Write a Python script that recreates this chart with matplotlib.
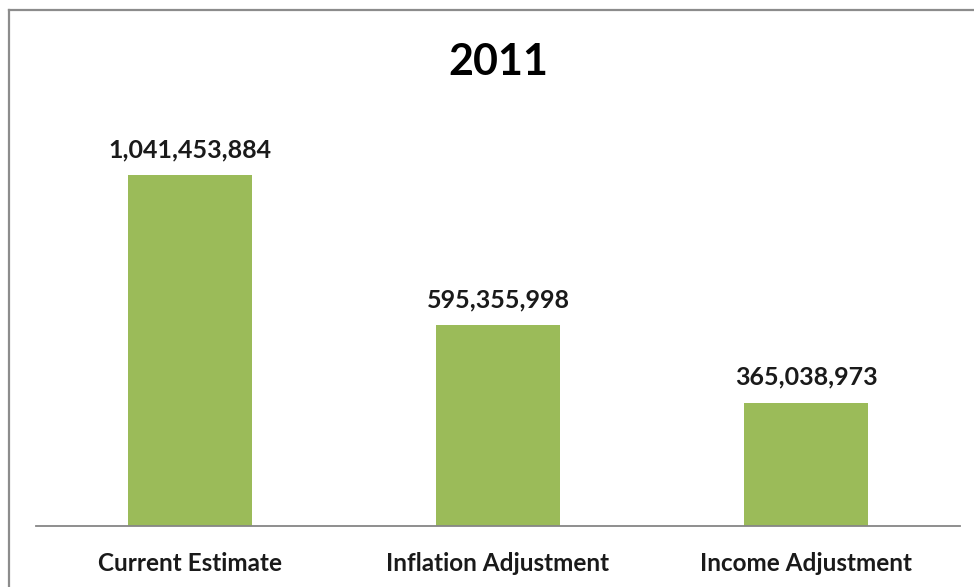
import matplotlib.pyplot as plt
from matplotlib.lines import Line2D

# Estimates for 2011
categories = ["Current Estimate", "Inflation Adjustment", "Income Adjustment"]
values = [1041453884, 595355998, 365038973]
title = "2011"

plt.rcParams['font.family'] = ['Lato', 'DejaVu Sans']

fig = plt.figure(figsize=(9.74, 5.87), dpi=100)
ax = fig.add_axes([36 / 974, 61 / 587, 924 / 974, 396 / 587])

x = range(len(categories))
bars = ax.bar(x, values, width=0.4, color='#9BBB59')

ax.set_xlim(-0.5, len(categories) - 0.5)
ax.set_ylim(0, values[0] * 396 / 351)

# value labels above each bar
for rect, v in zip(bars, values):
    ax.annotate(f"{v:,}", (rect.get_x() + rect.get_width() / 2, v),
                xytext=(0, 13), textcoords='offset points',
                ha='center', va='baseline', fontsize=18, fontweight='bold',
                color='#1a1a1a')

ax.set_xticks(list(x))
ax.set_xticklabels(categories, fontsize=17.5, fontweight='bold', color='#1a1a1a')
ax.tick_params(axis='x', length=0, pad=19)
ax.set_yticks([])

for side in ['top', 'left', 'right']:
    ax.spines[side].set_visible(False)
ax.spines['bottom'].set_color('#868686')
ax.spines['bottom'].set_linewidth(1.3)

fig.text(498 / 974, 1 - 75 / 587, title, ha='center', va='baseline',
         fontsize=31, fontweight='bold', color='black')

# chart frame (left and top edges)
fig.add_artist(Line2D([8.5 / 974, 8.5 / 974], [0, 1 - 9.5 / 587],
                      transform=fig.transFigure, color='#8c8c8c', lw=1.6))
fig.add_artist(Line2D([8.5 / 974, 1], [1 - 9.5 / 587, 1 - 9.5 / 587],
                      transform=fig.transFigure, color='#8c8c8c', lw=1.6))

fig.savefig('out.png', dpi=100, facecolor='white')
